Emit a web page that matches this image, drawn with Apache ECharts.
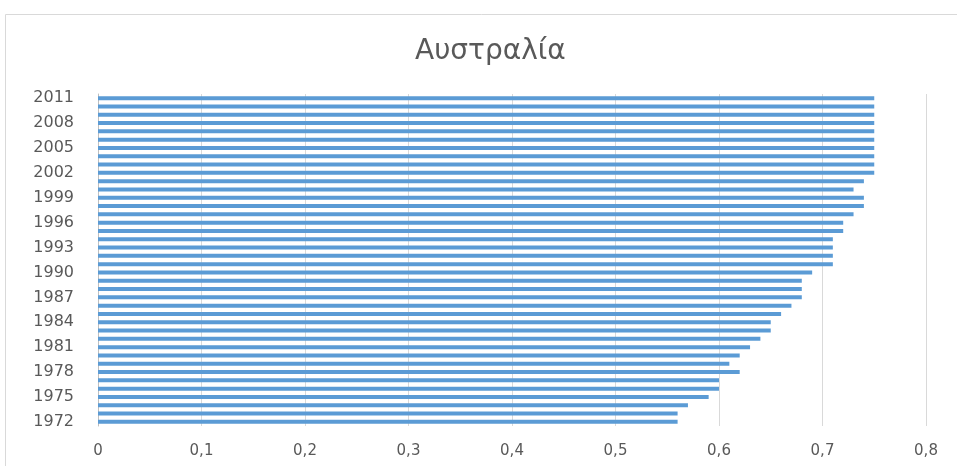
<!DOCTYPE html>
<html>
<head>
<meta charset="utf-8">
<script src="https://cdn.jsdelivr.net/npm/echarts@6/dist/echarts.min.js"></script>
<style>
html, body { margin: 0; padding: 0; background: #fff; }
#main { width: 957px; height: 466px; }
</style>
</head>
<body>
<div id="main"></div>
<script>
// years, bottom to top
const years = [];
for (let y = 1972; y <= 2011; y++) years.push(String(y));

// values, 1972 .. 2011
const values = [
	0.56, 0.56, 0.57, 0.59, 0.60, 0.60, 0.62, 0.61, 0.62, 0.63,
	0.64, 0.65, 0.65, 0.66, 0.67, 0.68, 0.68, 0.68, 0.69, 0.71,
	0.71, 0.71, 0.71, 0.72, 0.72, 0.73, 0.74, 0.74, 0.73, 0.74,
	0.75, 0.75, 0.75, 0.75, 0.75, 0.75, 0.75, 0.75, 0.75, 0.75
];

const xTicks = { min: 0, max: 0.8, step: 0.1 };

const chart = echarts.init(document.getElementById("main"));
const font = "'DejaVu Sans', 'Noto Sans', sans-serif";

const option = {
	animation: false,
	textStyle: { fontFamily: font },
	title: {
		text: "Αυστραλία",
		left: 410,
		top: 33,
		textStyle: { fontFamily: font, fontSize: 28, fontWeight: "normal", color: "#595959" }
	},
	graphic: [
		{
			type: "rect",
			shape: { x: 5.5, y: 14.5, width: 960, height: 460 },
			style: { fill: "none", stroke: "#d9d9d9", lineWidth: 1 },
			silent: true
		}
	],
	grid: { left: 98, right: 31, top: 94, bottom: 40 },
	xAxis: {
		type: "value",
		min: xTicks.min,
		max: xTicks.max,
		interval: xTicks.step,
		axisLine: { show: false },
		axisTick: { show: false },
		splitLine: { lineStyle: { color: "#d9d9d9", width: 1 } },
		axisLabel: {
			color: "#595959",
			fontSize: 15,
			fontFamily: font,
			margin: 18,
			formatter: v => (v === 0 ? "0" : v.toFixed(1).replace(".", ","))
		}
	},
	yAxis: {
		type: "category",
		data: years,
		axisLine: { show: true, lineStyle: { color: "#bfbfbf" } },
		axisTick: { show: false },
		axisLabel: {
			interval: 2,
			color: "#595959",
			fontSize: 16,
			fontFamily: font,
			margin: 24
		}
	},
	series: [
		{
			type: "bar",
			data: values,
			barWidth: 4,
			itemStyle: { color: "#5b9bd5" }
		}
	]
};

chart.setOption(option);
</script>
</body>
</html>
